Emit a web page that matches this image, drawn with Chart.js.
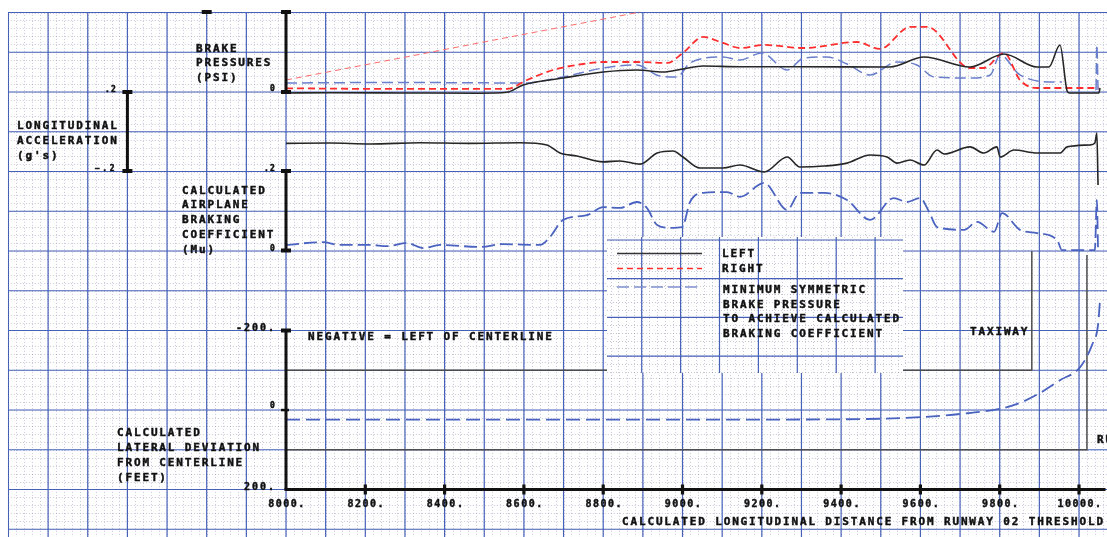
<!DOCTYPE html>
<html>
<head>
<meta charset="utf-8">
<title>Brake pressures, acceleration, braking coefficient and lateral deviation</title>
<script src="https://cdn.jsdelivr.net/npm/chart.js@4.4.1/dist/chart.umd.min.js"></script>
<style>
  html, body { margin: 0; padding: 0; background: #fff; }
  canvas { display: block; }
</style>
</head>
<body>
<canvas id="chart" width="1107" height="537"></canvas>
<script>
// distance from runway 02 threshold (ft) and the readings taken off the plot

// brake pressures (psi)
const leftDist = [8000, 8111, 8288, 8489, 8557, 8598, 8699, 8800, 8885, 8951, 9001, 9052, 9145, 9296, 9523, 9609, 9725, 9811, 9894, 9924, 9952, 9970, 9975, 10050, 10053];
const leftPsi = [-12, -10, -12, -15, -4, 88, 175, 250, 275, 250, 288, 325, 316, 316, 313, 438, 313, 475, 313, 313, 588, 12, -12, -12, 50];

const rightDist = [8000, 8288, 8557, 8608, 8673, 8749, 8800, 8885, 8961, 9001, 9052, 9102, 9145, 9206, 9306, 9440, 9498, 9574, 9617, 9725, 9760, 9811, 9851, 9894, 10050];
const rightPsi = [46, 38, 38, 150, 275, 350, 375, 375, 363, 488, 688, 613, 550, 588, 550, 625, 538, 813, 813, 300, 300, 488, 150, 50, 50];

// minimum symmetric brake pressure to achieve calculated braking coefficient
const minDist = [8000, 8288, 8598, 8699, 8800, 8885, 8943, 8986, 9019, 9102, 9145, 9200, 9264, 9306, 9364, 9415, 9473, 9541, 9591, 9634, 9725, 9776, 9801, 9851, 9945, 9957, 10000, 10043, 10045, 10048];
const minPsi = [113, 119, 113, 188, 300, 338, 200, 188, 363, 438, 400, 488, 275, 425, 438, 350, 213, 375, 338, 188, 175, 213, 463, 213, 125, 125, null, 25, 588, 25];

// thin red reference line
const refDist = [8000, 8893];
const refPsi = [150, 1000];

// longitudinal acceleration (g)
const accDist = [8000, 8111, 8212, 8338, 8464, 8590, 8658, 8691, 8734, 8800, 8842, 8893, 8936, 8976, 9001, 9044, 9102, 9145, 9206, 9264, 9296, 9357, 9415, 9473, 9516, 9541, 9574, 9609, 9642, 9660, 9725, 9760, 9793, 9801, 9836, 9894, 9952, 9970, 10028, 10040, 10045, 10048];
const accG = [-0.06, -0.058, -0.063, -0.057, -0.06, -0.057, -0.068, -0.109, -0.124, -0.154, -0.149, -0.165, -0.109, -0.099, -0.129, -0.185, -0.185, -0.17, -0.205, -0.129, -0.18, -0.175, -0.16, -0.119, -0.129, -0.16, -0.144, -0.17, -0.094, -0.114, -0.078, -0.109, -0.078, -0.129, -0.094, -0.109, -0.109, -0.078, -0.068, -0.058, -0.008, -0.271];

// calculated airplane braking coefficient (Mu)
const muDist = [8000, 8093, 8136, 8212, 8255, 8305, 8346, 8388, 8489, 8547, 8641, 8666, 8699, 8759, 8800, 8842, 8885, 8910, 8936, 8968, 8999, 9019, 9052, 9112, 9145, 9206, 9264, 9296, 9357, 9415, 9473, 9533, 9566, 9599, 9622, 9642, 9710, 9743, 9786, 9806, 9851, 9894, 9945, 9957, 10040, 10045, 10048];
const muVal = [0.014, 0.021, 0.014, 0.014, 0.011, 0.019, 0.006, 0.014, 0.009, 0.016, 0.014, 0.034, 0.077, 0.089, 0.109, 0.107, 0.122, 0.107, 0.064, 0.057, 0.059, 0.122, 0.145, 0.147, 0.135, 0.17, 0.102, 0.145, 0.145, 0.127, 0.077, 0.132, 0.122, 0.132, 0.097, 0.059, 0.052, 0.072, 0.047, 0.094, 0.052, 0.044, 0.026, 0.001, 0.001, 0.127, 0.001];

// calculated lateral deviation from centerline (ft, negative = left)
const devDist = [8000, 8400, 8800, 9200, 9500, 9599, 9700, 9800, 9851, 9902, 9952, 10003, 10033, 10048, 10053];
const devFt = [24, 24, 24, 24, 22, 18, 10, -3, -18, -43, -75, -108, -164, -214, -277];

// runway edges and taxiway
const edgeLeftDist = [8000, 9881, 9881];
const edgeLeftDev = [-100, -100, -400];
const edgeRightDist = [8000, 10020, 10020];
const edgeRightDev = [100, 100, -390];

const xTicks = [8000, 8200, 8400, 8600, 8800, 9000, 9200, 9400, 9600, 9800, 10000];
const xTickLabels = ["8000.", "8200.", "8400.", "8600.", "8800.", "9000.", "9200.", "9400.", "9600.", "9800.", "10000."];
const psiTicks = [0];
const psiTickLabels = ["0"];
const accTicks = [0.2, -0.2];
const accTickLabels = [".2", "\u2212.2"];
const muTicks = [0.2, 0];
const muTickLabels = [".2", "0"];
const devTicks = [-200, 0, 200];
const devTickLabels = ["-200.", "0", "200."];

const INK = "#111";
const MONO = "'DejaVu Sans Mono', 'Liberation Mono', monospace";

function toPoints(xs, ys) {
  return xs.map((x, i) => ({ x: x, y: ys[i] }));
}

function text(ctx, str, x, y, size, spacing, align) {
  ctx.font = "bold " + size + "px " + MONO;
  ctx.letterSpacing = spacing + "px";
  ctx.textAlign = align || "left";
  ctx.textBaseline = "alphabetic";
  ctx.fillStyle = INK;
  ctx.strokeStyle = INK;
  ctx.lineWidth = 0.45;
  ctx.fillText(str, x, y);
  ctx.strokeText(str, x, y);
}

function label(ctx, lines, x, y, step) {
  lines.forEach((t, i) => text(ctx, t, x, y + i * step, 11, 1.85));
}

// graph paper: dotted minor lines, blue major lines
function drawGrid(ctx, x0, y0, x1, y1, gx, gy, stepX, stepY) {
  ctx.save();
  ctx.beginPath();
  ctx.rect(x0, y0, x1 - x0, y1 - y0);
  ctx.clip();
  const mx = stepX / 5, my = stepY / 5;
  const startX = gx - Math.ceil((gx - x0) / mx) * mx;
  const startY = gy - Math.ceil((gy - y0) / my) * my;
  ctx.lineWidth = 1;
  ctx.strokeStyle = "rgba(115,120,165,0.4)";
  ctx.setLineDash([1, 2]);
  ctx.beginPath();
  for (let x = startX; x <= x1; x += mx) {
    ctx.moveTo(Math.round(x) + 0.5, y0);
    ctx.lineTo(Math.round(x) + 0.5, y1);
  }
  for (let y = startY; y <= y1; y += my) {
    ctx.moveTo(x0, Math.round(y) + 0.5);
    ctx.lineTo(x1, Math.round(y) + 0.5);
  }
  ctx.stroke();
  ctx.setLineDash([]);
  ctx.strokeStyle = "#4761b8";
  ctx.lineWidth = 1.2;
  ctx.beginPath();
  for (let x = gx - Math.ceil((gx - x0) / stepX) * stepX; x <= x1; x += stepX) {
    ctx.moveTo(x, y0);
    ctx.lineTo(x, y1);
  }
  for (let y = gy - Math.ceil((gy - y0) / stepY) * stepY; y <= y1; y += stepY) {
    ctx.moveTo(x0, y);
    ctx.lineTo(x1, y);
  }
  ctx.stroke();
  ctx.restore();
}

// thick axis bar with end caps
function vBar(ctx, x, y0, y1, capTop, capBottom) {
  ctx.fillStyle = "#111";
  ctx.fillRect(x - 1.5, y0, 3, y1 - y0);
  if (capTop) ctx.fillRect(x - 5, y0 - 2, 10, 4);
  if (capBottom) ctx.fillRect(x - 5, y1 - 2, 10, 4);
}

function drawLegend(ctx) {
  const bx = 607, by = 237, bw = 296, bh = 136;
  ctx.fillStyle = "#fff";
  ctx.fillRect(bx, by, bw, bh);
  drawGrid(ctx, bx, by, bx + bw, by + bh, 641.7, 240, 38.9, 38.7);

  ctx.save();
  ctx.lineWidth = 1.5;
  ctx.strokeStyle = "#333";
  ctx.beginPath(); ctx.moveTo(617, 253.5); ctx.lineTo(702, 253.5); ctx.stroke();
  ctx.strokeStyle = "#ff2e2e";
  ctx.setLineDash([6, 4]);
  ctx.beginPath(); ctx.moveTo(617, 268.5); ctx.lineTo(702, 268.5); ctx.stroke();
  ctx.strokeStyle = "#7f90cf";
  ctx.setLineDash([12, 5]);
  ctx.beginPath(); ctx.moveTo(617, 287); ctx.lineTo(702, 287); ctx.stroke();
  ctx.restore();

  label(ctx, ["LEFT", "RIGHT"], 722, 257, 14.5);
  label(ctx, ["MINIMUM SYMMETRIC", "BRAKE PRESSURE", "TO ACHIEVE CALCULATED", "BRAKING COEFFICIENT"], 723, 293, 14.7);
}

const paperPlugin = {
  id: "paper",
  beforeDraw(chart) {
    const ctx = chart.ctx;
    const xs = chart.scales.x, yd = chart.scales.yDev;
    ctx.save();
    ctx.fillStyle = "#fff";
    ctx.fillRect(0, 0, chart.width, chart.height);
    const gx = xs.getPixelForValue(8000), sx = xs.getPixelForValue(8100) - gx;
    const gy = yd.getPixelForValue(0), sy = yd.getPixelForValue(100) - gy;
    drawGrid(ctx, xs.getPixelForValue(7300) - 0.6, yd.getPixelForValue(-1000) - 0.6, chart.width, chart.height, gx, gy, sx, sy);
    ctx.restore();
  },
  afterDatasetsDraw(chart) {
    const ctx = chart.ctx;
    const s = chart.scales;
    const X = (v) => s.x.getPixelForValue(v);
    ctx.save();

    drawLegend(ctx);

    // captions
    label(ctx, ["BRAKE", "PRESSURES", "(PSI)"], 196, 51.5, 14.5);
    label(ctx, ["LONGITUDINAL", "ACCELERATION", "(g's)"], 17, 128.5, 15);
    label(ctx, ["CALCULATED", "AIRPLANE", "BRAKING", "COEFFICIENT", "(Mu)"], 182, 193.5, 14.8);
    label(ctx, ["NEGATIVE = LEFT OF CENTERLINE"], 308, 340, 0);
    label(ctx, ["CALCULATED", "LATERAL DEVIATION", "FROM CENTERLINE", "(FEET)"], 117, 435.5, 15);
    label(ctx, ["TAXIWAY"], 970, 335, 0);
    label(ctx, ["RUNWAY"], 1097, 443, 0);
    label(ctx, ["CALCULATED LONGITUDINAL DISTANCE FROM RUNWAY 02 THRESHOLD"], 622, 525, 0);

    // axes
    const x0 = X(8000);
    const xAcc = X(7600);
    vBar(ctx, x0, s.yPsi.getPixelForValue(1000), s.yPsi.getPixelForValue(0), true, true);
    ctx.fillRect(X(7800) - 5, s.yPsi.getPixelForValue(1000) - 2, 10, 4);
    vBar(ctx, xAcc, s.yAcc.getPixelForValue(0.2), s.yAcc.getPixelForValue(-0.2), true, true);
    vBar(ctx, x0, s.yMu.getPixelForValue(0.2), s.yMu.getPixelForValue(0), true, true);
    const yBase = s.yDev.getPixelForValue(200);
    vBar(ctx, x0, s.yDev.getPixelForValue(-200), yBase, true, false);
    ctx.fillRect(x0 - 5, s.yDev.getPixelForValue(0) - 1.2, 8, 2.5);
    ctx.fillRect(x0 - 1.5, yBase - 1.5, chart.width - x0, 3);
    xTicks.forEach((t) => {
      if (t > 8000) ctx.fillRect(X(t) - 1.6, yBase - 5, 3.2, 10);
    });

    // tick labels
    xTicks.forEach((t, i) => text(ctx, xTickLabels[i], X(t) + 1, 507, 10, 1.5, "center"));
    psiTicks.forEach((t, i) => text(ctx, psiTickLabels[i], 276, s.yPsi.getPixelForValue(t) - 1, 8, 1.2, "right"));
    accTicks.forEach((t, i) => text(ctx, accTickLabels[i], 117, s.yAcc.getPixelForValue(t) + 0.5, 8, t < 0 ? 2.5 : 1.2, "right"));
    muTicks.forEach((t, i) => text(ctx, muTickLabels[i], 276, s.yMu.getPixelForValue(t), 8, 1.2, "right"));
    devTicks.forEach((t, i) => {
      if (t === 0) text(ctx, devTickLabels[i], 276, s.yDev.getPixelForValue(t) - 2, 8, 1.2, "right");
      else text(ctx, devTickLabels[i], 276, s.yDev.getPixelForValue(t) + 0.5, 10, 2, "right");
    });

    ctx.restore();
  },
};

const ctx = document.getElementById("chart").getContext("2d");

const chart = new Chart(ctx, {
  type: "line",
  data: {
    datasets: [
      {
        label: "LEFT",
        data: toPoints(leftDist, leftPsi),
        yAxisID: "yPsi",
        borderColor: "#262626",
        borderWidth: 1.6,
        cubicInterpolationMode: "monotone",
      },
      {
        label: "RIGHT",
        data: toPoints(rightDist, rightPsi),
        yAxisID: "yPsi",
        borderColor: "#ff2e2e",
        borderWidth: 1.8,
        borderDash: [7, 4],
        cubicInterpolationMode: "monotone",
      },
      {
        label: "MINIMUM SYMMETRIC BRAKE PRESSURE",
        data: toPoints(minDist, minPsi),
        yAxisID: "yPsi",
        borderColor: "#6a7fcb",
        borderWidth: 1.5,
        borderDash: [11, 5],
        cubicInterpolationMode: "monotone",
      },
      {
        label: "reference",
        data: toPoints(refDist, refPsi),
        yAxisID: "yPsi",
        borderColor: "#ff6a6a",
        borderWidth: 1,
        borderDash: [6, 4],
      },
      {
        label: "LONGITUDINAL ACCELERATION",
        data: toPoints(accDist, accG),
        yAxisID: "yAcc",
        borderColor: "#262626",
        borderWidth: 1.6,
        cubicInterpolationMode: "monotone",
      },
      {
        label: "BRAKING COEFFICIENT",
        data: toPoints(muDist, muVal),
        yAxisID: "yMu",
        borderColor: "#4a63c0",
        borderWidth: 1.8,
        borderDash: [13, 5],
        cubicInterpolationMode: "monotone",
      },
      {
        label: "LATERAL DEVIATION",
        data: toPoints(devDist, devFt),
        yAxisID: "yDev",
        borderColor: "#4a63c0",
        borderWidth: 1.8,
        borderDash: [14, 6],
        cubicInterpolationMode: "monotone",
      },
      {
        label: "runway edge left",
        data: toPoints(edgeLeftDist, edgeLeftDev),
        yAxisID: "yDev",
        borderColor: "#4d4d4d",
        borderWidth: 1.5,
      },
      {
        label: "runway edge right",
        data: toPoints(edgeRightDist, edgeRightDev),
        yAxisID: "yDev",
        borderColor: "#4d4d4d",
        borderWidth: 1.5,
      },
    ],
  },
  options: {
    responsive: false,
    animation: false,
    layout: { padding: 0 },
    elements: { point: { radius: 0 }, line: { tension: 0 } },
    plugins: {
      legend: { display: false },
      tooltip: { enabled: false },
    },
    scales: {
      x: { type: "linear", min: 7278.7, max: 10070.6, display: false },
      // each panel's scale is stretched over the whole canvas so its band lands in place
      yPsi: { type: "linear", min: -5562.5, max: 1150, display: false },
      yAcc: { type: "linear", min: -2.05316, max: 0.66582, display: false },
      yMu: { type: "linear", min: -0.72075, max: 0.63019, display: false },
      yDev: { type: "linear", min: -1031.45, max: 319.5, reverse: true, display: false },
    },
  },
  plugins: [paperPlugin],
});
</script>
</body>
</html>
